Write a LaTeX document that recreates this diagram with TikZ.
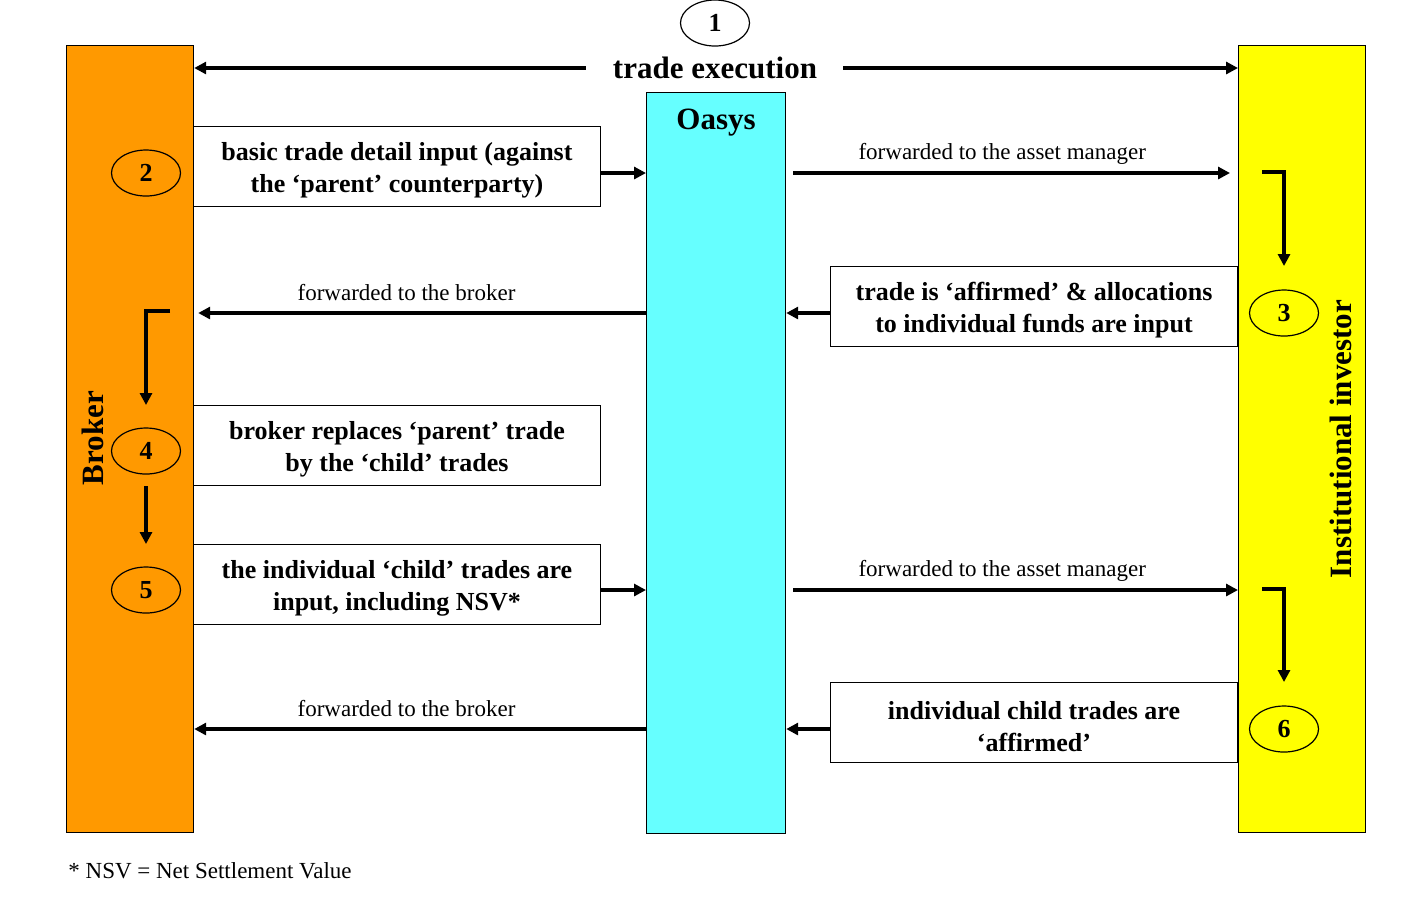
\documentclass[tikz,border=0pt]{standalone}
\usepackage{fontspec}
\setmainfont{Liberation Serif}
\usetikzlibrary{positioning,shapes.geometric,arrows.meta}
\definecolor{brokerorange}{HTML}{FF9900}
\definecolor{oasyscyan}{HTML}{66FFFF}
\definecolor{investoryellow}{HTML}{FFFF00}
\newcommand{\topgap}{\rule{0pt}{13pt}}

\begin{document}
\begin{tikzpicture}[x=0.5pt, y=-0.5pt,
    party/.style={draw, line width=0.6pt, anchor=north west, minimum width=63.5pt, minimum height=393.5pt, inner sep=0pt},
    detail box/.style={draw, line width=0.5pt, anchor=north west, minimum width=203.5pt, minimum height=40pt,
        inner sep=0pt, align=center, font=\fontsize{13}{16}\selectfont\bfseries},
    num ellipse/.style={draw, ellipse, line width=0.6pt, minimum width=34.5pt, minimum height=23pt,
        inner sep=0pt, font=\fontsize{13}{16}\selectfont\bfseries},
    flow/.style={line width=1.7pt, -{Triangle[length=6pt,width=6pt]}},
    plain label/.style={font=\fontsize{11.5}{14}\selectfont},
    title/.style={inner sep=0pt, font=\fontsize{15.5}{18}\selectfont\bfseries}
]
    \useasboundingbox (0,0) rectangle (1416,902);

    \node[party, fill=brokerorange] (broker) at (66,45) {};
    \node[party, fill=investoryellow] (investor) at (1238,45) {};
    \node[party, fill=oasyscyan, minimum width=69.5pt, minimum height=370.5pt] (oasys) at (646,92) {};

    \node[title, rotate=90] (broker label) at (93,438) {Broker};
    \node[title, rotate=90] (investor label) at (1341,439) {Institutional investor};
    \node[title, below=8.5pt of oasys.north] (oasys label) {Oasys};

    \node[num ellipse] (step 1) at (715,23) {1};
    \node[num ellipse] (step 2) at (146,173) {2};
    \node[num ellipse] (step 3) at (1284,313) {3};
    \node[num ellipse] (step 4) at (146,451) {4};
    \node[num ellipse] (step 5) at (146,590) {5};
    \node[num ellipse] (step 6) at (1284,729) {6};

    \node[title] (trade execution) at (715,68) {trade execution};
    \draw[flow] ([xshift=-13.5pt]trade execution.west) -- (trade execution.west -| broker.east);
    \draw[flow] ([xshift=13pt]trade execution.east) -- (trade execution.east -| investor.west);

    \node[detail box] (basic input) at (193,126) {\topgap basic trade detail input (against\\the `parent' counterparty)};
    \node[detail box, anchor=north east] (allocation box) at (1238,266) {\topgap trade is `affirmed' \& allocations\\to individual funds are input};
    \node[detail box] (replace box) at (193,405) {\topgap broker replaces `parent' trade\\by the `child' trades};
    \node[detail box] (child input) at (193,544) {\topgap the individual `child' trades are\\input, including NSV*};
    \node[detail box, anchor=north east] (affirmed box) at (1238,682) {\topgap individual child trades are\\`affirmed'};

    % broker -> oasys -> investor
    \draw[flow] (basic input.east |- step 2) -- (step 2 -| oasys.west);
    \draw[flow, shorten >=4pt] ([xshift=3.5pt]oasys.east |- step 2) -- (step 2 -| investor.west)
        node[plain label, pos=0.47, above=0pt] (fwd manager 1) {forwarded to the asset manager};
    \coordinate (turn 1) at (1262,172);
    \draw[flow] (turn 1) -| (step 3 |- allocation box.north);

    % investor -> oasys -> broker
    \draw[flow] (allocation box.west |- step 3) -- (step 3 -| oasys.east);
    \draw[flow, shorten >=2pt] (oasys.west |- step 3) -- (step 3 -| broker.east)
        node[plain label, pos=0.53, above=2pt] (fwd broker 1) {forwarded to the broker};
    \coordinate (turn 2) at (170,311);
    \draw[flow] (turn 2) -| (step 4 |- replace box.north);
    \draw[flow] (step 4 |- replace box.south) -- (step 4 |- child input.north);

    % child trades
    \draw[flow] (child input.east |- step 5) -- (step 5 -| oasys.west);
    \draw[flow] ([xshift=3.5pt]oasys.east |- step 5) -- (step 5 -| investor.west)
        node[plain label, pos=0.47, above=0pt] (fwd manager 2) {forwarded to the asset manager};
    \coordinate (turn 3) at (1262,589);
    \draw[flow] (turn 3) -| (step 6 |- affirmed box.north);
    \draw[flow] (affirmed box.west |- step 6) -- (step 6 -| oasys.east);
    \draw[flow] (oasys.west |- step 6) -- (step 6 -| broker.east)
        node[plain label, pos=0.53, above=2pt] (fwd broker 2) {forwarded to the broker};

    \node[plain label, anchor=west, inner sep=0pt] (footnote) at (68,871) {* NSV = Net Settlement Value};
\end{tikzpicture}
\end{document}
